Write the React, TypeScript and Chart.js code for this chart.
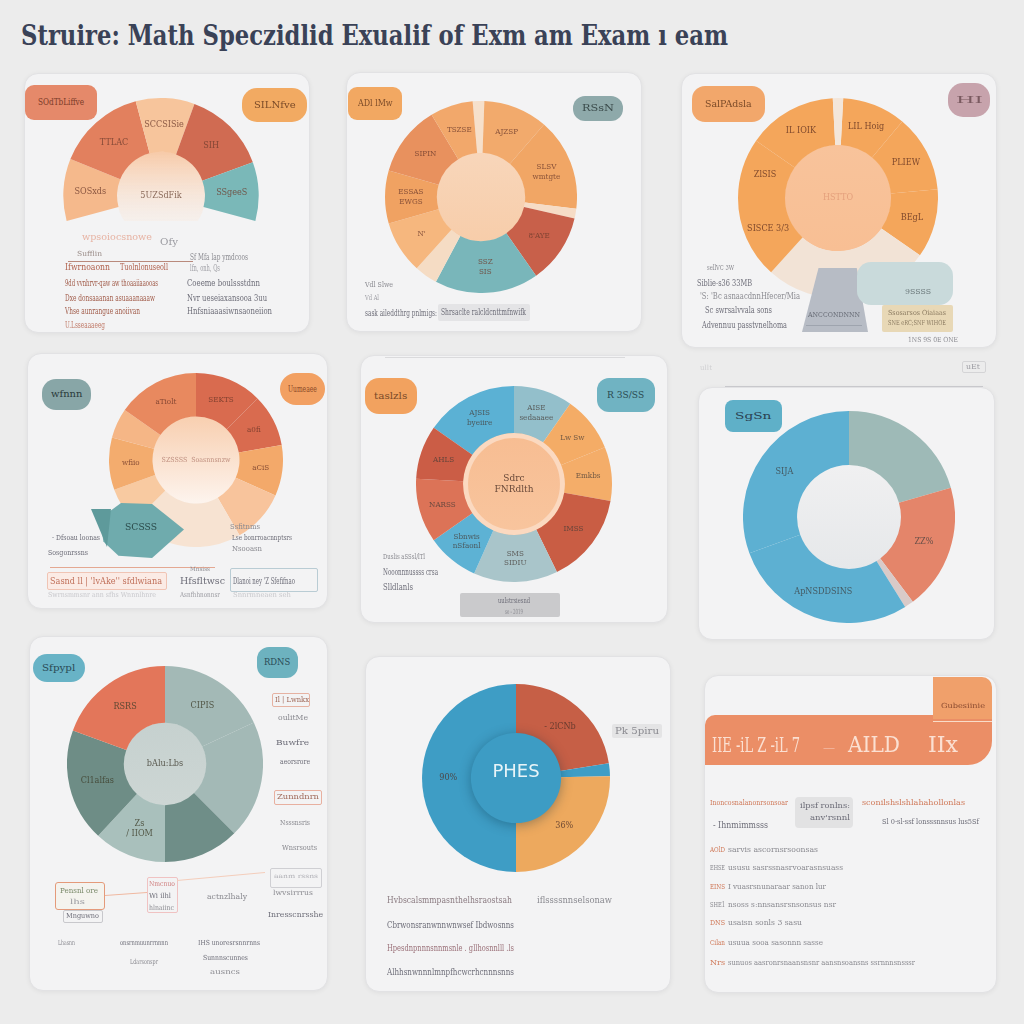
import React, { useEffect, useRef } from "react";
import { Chart, registerables } from "chart.js";

Chart.register(...registerables);

const SMALL_FONT = "'DejaVu Serif Condensed', 'Liberation Serif', serif";
const TITLE_FONT = "'DejaVu Serif Condensed', 'Liberation Serif', serif";

const TITLE = "Struire: Math Speczidlid Exualif of Exm am Exam ı eam";

// ---------- chart data ----------
const c1Labels = ["SOSxds", "TTLAC", "SCCSISie", "SIH", "SSgeeS"];
const c1Values = [37, 53, 35, 50, 35];
const c1Colors = ["#f5b98c", "#e2805e", "#f7c59c", "#d06b52", "#7ab8b8"];

const c2Labels = ["", "AJZSP", "SLSV\nwmtgte", "", "8'AYE", "SSZ\nSIS", "", "N'", "ESSAS\nEWGS", "SIPIN", "TSZSE"];
const c2Values = [7, 39, 56, 6, 42, 63, 14, 32, 32, 43, 26];
const c2Colors = ["#f6e0cb", "#f2aa6c", "#f1a665", "#f6dcc6", "#c8604a", "#79b6ba", "#f5dcc4", "#f6b77e", "#f0a262", "#e8915e", "#f2a86b"];

const c3Labels = ["LIL Hoig", "PLIEW", "BEgL", "", "SISCE 3/3", "ZlSIS", "IL IOIK", ""];
const c3Values = [37, 45, 40, 97, 48, 35, 52, 6];
const c3Colors = ["#f4a65b", "#f4a65b", "#f4a65b", "#f2e3d6", "#f4a65b", "#f4a65b", "#f4a65b", "#f3e6da"];

const c4Labels = ["SEKTS", "a0fi", "aCiS", "", "", "", "wfiio", "", "aTiolt"];
const c4Values = [45, 35, 34, 36, 75, 25, 35, 20, 55];
const c4Colors = ["#d96b4f", "#d96b4f", "#f3a96a", "#f8c49c", "#f7e3d2", "#f8caa1", "#f3ac6e", "#f5b686", "#e8895f"];

const c5Labels = ["AJSIS\nbyeiire", "AISE\nsedaaaee", "Lw Sw", "Emkbs", "IMSS", "SMS\nSIDIU", "Sbnwis\nnSfaonl", "NARSS", "AHLS"];
const c5Values = [55, 35, 33, 32, 54, 50, 31, 38, 32];
const c5Colors = ["#5bb1d4", "#93bfcb", "#f4ac66", "#f4ad69", "#c95d44", "#a9c5ca", "#5db2d4", "#dc7357", "#cb5d46"];

const c6Labels = ["", "ZZ%", "", "ApNSDDSINS", "SIJA"];
const c6Values = [74, 69, 5, 102, 110];
const c6Colors = ["#9ebab7", "#e4856a", "#d9cac8", "#5db0d2", "#5db0d2"];

const c7Labels = ["CIPIS", "", "", "Zs\n/ IIOM", "Cl1alfas", "RSRS"];
const c7Values = [65, 70, 45, 43, 67, 70];
const c7Colors = ["#a3b9b6", "#a3b9b6", "#6f8e88", "#a9c0bc", "#6e8d86", "#e3765a"];

const c8Labels = ["- 2lCNb", "", "36%", "90%"];
const c8Values = [81, 8, 91, 180];
const c8Colors = ["#c65f46", "#3e9dc5", "#eda95e", "#3e9dc5"];

// ---------- layout ----------
type Spec = {
  cx: number; cy: number; R: number;
  rotation: number; circumference: number; cutout: number;
  values: number[]; colors: string[]; labels: string[];
  labelColor: string; labelSize: number; labelPos?: number;
  holeTop?: string; holeBottom?: string; ringColor?: string; ringWidth?: number;
  holeText?: string; holeTextColor?: string; holeTextSize?: number;
  disk?: { r: number; color: string; text: string; textColor: string; size: number };
};

const CHARTS: Spec[] = [
  { cx: 161, cy: 196, R: 98, rotation: -105, circumference: 210, cutout: 0.45, values: c1Values, colors: c1Colors, labels: c1Labels,
    labelColor: "rgba(110,60,45,0.8)", labelSize: 9, holeTop: "#f7caa8", holeBottom: "rgba(250,242,236,0.2)", holeText: "5UZSdFik", holeTextColor: "#8a6a5a", holeTextSize: 9 },
  { cx: 481, cy: 197, R: 96, rotation: -5, circumference: 360, cutout: 0.46, values: c2Values, colors: c2Colors, labels: c2Labels,
    labelColor: "rgba(110,60,45,0.8)", labelSize: 8, holeTop: "#f8d6ba", holeBottom: "#f7cdaa" },
  { cx: 838, cy: 198, R: 100, rotation: 3, circumference: 360, cutout: 0.53, values: c3Values, colors: c3Colors, labels: c3Labels,
    labelColor: "rgba(105,55,35,0.85)", labelSize: 9, holeTop: "#f8c39b", holeBottom: "#f8bf94", holeText: "HSTTO", holeTextColor: "#e4a07c", holeTextSize: 9 },
  { cx: 196, cy: 460, R: 87, rotation: 0, circumference: 360, cutout: 0.5, values: c4Values, colors: c4Colors, labels: c4Labels,
    labelColor: "rgba(110,55,40,0.8)", labelSize: 8, holeTop: "#f8cfb0", holeBottom: "#fdf4ee", holeText: "SZSSSS  Soasnnsnzw", holeTextColor: "#c09080", holeTextSize: 7 },
  { cx: 514, cy: 484, R: 98, rotation: -55, circumference: 360, cutout: 0.52, values: c5Values, colors: c5Colors, labels: c5Labels,
    labelColor: "rgba(70,60,55,0.75)", labelSize: 8, holeTop: "#f7bd92", holeBottom: "#f8c59e", ringColor: "#fbd9c0", ringWidth: 5,
    holeText: "Sdrc\nFNRdlth", holeTextColor: "#6a4a3a", holeTextSize: 10 },
  { cx: 849, cy: 517, R: 106, rotation: 0, circumference: 360, cutout: 0.49, values: c6Values, colors: c6Colors, labels: c6Labels,
    labelColor: "rgba(60,60,60,0.75)", labelSize: 9, holeTop: "#f0f0f1", holeBottom: "#e6e8ea" },
  { cx: 165, cy: 764, R: 98, rotation: 0, circumference: 360, cutout: 0.42, values: c7Values, colors: c7Colors, labels: c7Labels,
    labelColor: "rgba(60,60,40,0.8)", labelSize: 9, holeTop: "#c6d1cf", holeBottom: "#cdd6d4", holeText: "bAlu:Lbs", holeTextColor: "#5a5a50", holeTextSize: 9 },
  { cx: 516, cy: 778, R: 94, rotation: 0, circumference: 360, cutout: 0, values: c8Values, colors: c8Colors, labels: c8Labels,
    labelColor: "rgba(80,50,40,0.8)", labelSize: 9, labelPos: 0.72,
    disk: { r: 0.48, color: "#3d9cc4", text: "PHES", textColor: "#e8f4f8", size: 18 } },
];

const PANELS: [number, number, number, number][] = [
  [24, 73, 286, 260], [346, 72, 296, 260], [681, 73, 316, 275],
  [27, 353, 301, 256], [360, 355, 308, 268], [698, 387, 297, 253],
  [29, 636, 299, 355], [365, 656, 306, 336], [704, 675, 293, 318],
];

// tags: x, y, w, h, bg, text, textColor, radius
const TAGS: [number, number, number, number, string, string, string, number][] = [
  [25, 85, 72, 35, "#e5896a", "SOdTbLiffve", "#7a3a28", 9],
  [242, 88, 65, 34, "#f2aa62", "SILNfve", "#7a4a28", 15],
  [348, 87, 54, 33, "#f2a862", "ADl lMw", "#7a4a28", 9],
  [573, 96, 50, 25, "#8ea9aa", "RSsN", "#3a4a4a", 12],
  [692, 86, 73, 36, "#f2a76b", "SalPAdsla", "#7a4a28", 13],
  [948, 83, 42, 34, "#c7a3ac", "HI", "#7a5a60", 15],
  [42, 379, 49, 31, "#88a6a7", "wfnnn", "#2a3a3a", 14],
  [280, 373, 45, 32, "#f2a062", "Uumeaee", "#8a4a28", 16],
  [365, 378, 52, 36, "#f2a25f", "taslzls", "#7a4a28", 14],
  [597, 378, 58, 34, "#70b3c2", "R 3S/SS", "#2a4a50", 12],
  [725, 400, 57, 32, "#5fb0c8", "SgSn", "#2a4050", 8],
  [33, 654, 52, 28, "#68b3c6", "Sfpypl", "#2a4a55", 14],
  [257, 647, 41, 31, "#6db2bf", "RDNS", "#2a4a55", 12],
];

// boxes: x, y, w, h, bg, border, radius, clip
const BOXES: [number, number, number, number, string, string, string, string][] = [
  [438, 304, 92, 17, "#e4e4e6", "none", "2px", ""],
  [802, 268, 66, 64, "#b7bcc5", "none", "0", "polygon(25% 0, 83% 0, 100% 100%, 0 100%)"],
  [857, 262, 96, 43, "#c9dadb", "none", "14px", ""],
  [882, 305, 71, 27, "#e8d8b6", "none", "2px", ""],
  [100, 503, 84, 55, "#6fabad", "none", "0", "polygon(0% 28%, 25% 0%, 62% 2%, 100% 48%, 62% 100%, 22% 96%, 4% 70%)"],
  [91, 509, 20, 38, "#5e9a9b", "none", "0", "polygon(0 0, 100% 0, 80% 100%)"],
  [47, 572, 120, 18, "#fbebe5", "1px solid #f0c4b4", "2px", ""],
  [230, 568, 88, 24, "transparent", "1px solid #b9ccd4", "2px", ""],
  [460, 593, 100, 24, "#cacacc", "none", "2px", ""],
  [962, 361, 24, 12, "transparent", "1px solid #d4d4d6", "2px", ""],
  [272, 693, 38, 14, "transparent", "1px solid #e6b2a2", "2px", ""],
  [274, 790, 48, 15, "transparent", "1px solid #e8b0a0", "2px", ""],
  [270, 868, 52, 20, "transparent", "1px solid #cfcfd3", "2px", ""],
  [55, 882, 50, 28, "#f4f3ee", "1px solid #e49a7a", "3px", ""],
  [63, 910, 40, 13, "transparent", "1px solid #c8c8cc", "2px", ""],
  [147, 877, 31, 36, "transparent", "1px solid #f0c2c2", "2px", ""],
  [612, 724, 50, 14, "#e4e4e5", "none", "2px", ""],
  [705, 715, 287, 50, "#eb8e66", "none", "10px 0 24px 0", ""],
  [933, 677, 59, 42, "#f0a06b", "none", "0 10px 0 0", ""],
  [795, 797, 58, 31, "#e2e2e3", "none", "4px", ""],
];

// text notes: x, y(center), width, text, color, size
const NOTES: [number, number, number, string, string, number][] = [
  // panel 1
  [82, 237, 70, "wpsoiocsnowe", "#e7b3a3", 9],
  [160, 242, 18, "Ofy", "#9a9aa0", 10],
  [77, 254, 25, "Sufflin", "#9a8c88", 7],
  [65, 267, 45, "Ifwrnoaonn", "#b0604c", 9],
  [120, 267, 48, "Tuolnlonuseoll", "#b0604c", 9],
  [190, 257, 58, "Sf Mfa lap ymdcoos", "#8a8a90", 9],
  [190, 268, 30, "lfn, onh, Qs", "#a0a0a6", 9],
  [65, 283, 93, "9dd vvnhrvr-qaw aw thoaaiiaaooas", "#a05a48", 9],
  [187, 283, 73, "Coeeme boulssstdnn", "#6d6d78", 9],
  [65, 298, 90, "Dxe donsaaanan asuaaanaaaw", "#a05a48", 9],
  [187, 298, 80, "Nvr ueseiaxansooa 3uu", "#6d6d78", 9],
  [65, 311, 75, "Vhse aunrangue anoiivan", "#a05a48", 9],
  [187, 311, 85, "Hnfsniaaasiwnsaoneiion", "#6d6d78", 9],
  [65, 325, 40, "U.Lsseaaaeeg", "#c07a68", 9],
  // panel 2
  [365, 285, 28, "Vdl Slwe", "#8a8a90", 8],
  [365, 298, 14, "Vd Al", "#a0a0a6", 8],
  [365, 313, 72, "sask aileddthrg pnlmigs:", "#6d6d78", 9],
  [441, 312, 85, "Shrsaclte ralcldcnttmfnwifk", "#6d6d78", 9],
  // panel 3
  [707, 268, 27, "sellVC 3W", "#8a8a90", 8],
  [697, 283, 55, "Siblie-s36 33MB", "#6d6d78", 9],
  [700, 296, 100, "'S: 'Bc asnaacdnnHfecer/Mia", "#8a8a90", 9],
  [705, 310, 67, "Sc swrsalvvala sons", "#6d6d78", 9],
  [702, 325, 85, "Advennuu passtvnelhoma", "#6d6d78", 9],
  [808, 315, 52, "ANCCONDNNN", "#6a6e78", 8],
  [905, 292, 26, "9SSSS", "#6d7a7c", 8],
  [888, 313, 58, "Ssosarsos Oiaiaas", "#8a7a60", 7],
  [888, 323, 58, "SNE eRC;SNF WIHOE", "#8a7a60", 7],
  [908, 340, 50, "1NS 9S 0E ONE", "#8a8a90", 7],
  // panel 4
  [52, 538, 48, "- Dfsoau loonas", "#6d6d78", 8],
  [48, 553, 40, "Sosgonrssns", "#6d6d78", 8],
  [125, 527, 32, "SCSSS", "#2a4a4a", 10],
  [230, 527, 30, "Ssfitnms", "#8a8a90", 8],
  [232, 538, 60, "Lse bonrroacnnptsrs", "#6d6d78", 8],
  [232, 549, 30, "Nsooasn", "#8a8a90", 8],
  [50, 581, 112, "Sasnd ll | 'lvAke'' sfdlwiana", "#c0705a", 9],
  [190, 569, 20, "Mnsiss", "#8a8a90", 6],
  [180, 581, 45, "Hfsfltwsc", "#6d6d78", 9],
  [233, 581, 62, "Dlanoi ney 'Z Sfefifnao", "#6d6d78", 9],
  [48, 595, 110, "Swrnsmmsnr ann sfhs  Wnnnlhnre", "#c8c8cc", 7],
  [180, 595, 40, "Asnfhhnonnsr", "#9a9aa0", 7],
  [233, 595, 60, "Snnrmneaen  seh", "#c8c8cc", 7],
  // panel 5
  [383, 557, 42, "Duslis aSSsl/lTl", "#8a8a90", 8],
  [383, 572, 55, "Nooonnnussss crsa", "#6d6d78", 9],
  [383, 587, 30, "Slldlanls", "#6d6d78", 9],
  [498, 601, 32, "uulstrsiesnd", "#6d6d78", 8],
  [505, 612, 18, "se - 2019", "#8a8a90", 7],
  // panel 6
  [966, 367, 14, "uEt", "#9a9aa0", 7],
  [700, 368, 12, "ullt", "#d0d0d2", 7],
  // panel 7
  [275, 700, 34, "Il | Lwnkx", "#a06a5a", 8],
  [278, 718, 30, "oulitMe", "#8a8a90", 8],
  [276, 743, 33, "Buwfre", "#6d6d78", 8],
  [280, 762, 30, "aeorsrore", "#6d6d78", 8],
  [277, 797, 42, "Zunndnrn", "#a06a5a", 8],
  [280, 823, 30, "Nsssnsris", "#8a8a90", 8],
  [282, 848, 35, "Wnsrsouts", "#8a8a90", 8],
  [274, 876, 44, "aanm rssns", "#b0b0b6", 6],
  [273, 893, 40, "lwvsirrrus", "#8a8a90", 7],
  [268, 915, 55, "Inresscnrsshe", "#6d6d78", 8],
  [60, 891, 38, "Pensnl ore", "#7a8a6a", 8],
  [70, 902, 15, "lhs", "#9a9aa0", 7],
  [66, 916, 33, "Mnguwno", "#6d6d78", 7],
  [149, 884, 26, "Nmcnuo", "#d08080", 7],
  [149, 896, 22, "Wi ilhl", "#6d6d78", 7],
  [149, 908, 25, "hlnaiinc", "#8a8a90", 7],
  [207, 897, 40, "actnzlhaly", "#8a8a90", 8],
  [58, 943, 17, "Lhasnn", "#8a8a90", 7],
  [120, 943, 48, "onsrnmuunrrnnnn", "#6d6d78", 7],
  [198, 943, 62, "IHS unoresrsnnrnns", "#6d6d78", 7],
  [130, 962, 28, "Ldarsonspr", "#8a8a90", 7],
  [203, 958, 45, "Sunnnscunnes", "#6d6d78", 7],
  [210, 972, 30, "ausncs", "#8a8a90", 7],
  // panel 8
  [615, 731, 44, "Pk 5piru", "#8a8a90", 9],
  [387, 900, 125, "Hvbscalsmmpasnthelhsraostsah", "#8a7a80", 9],
  [537, 900, 75, "iflssssnnselsonaw", "#8a8a90", 9],
  [387, 925, 127, "Cbrwonsranwnnwnwsef Ibdwosnns", "#6d6d78", 9],
  [387, 948, 127, "Hpesdnpnnnsnnmsnle . gllhosnnlll .ls", "#9a7078", 9],
  [387, 972, 127, "Alhhsnwnnnlmnpfhcwcrhcnnnsnns", "#6d6d78", 9],
  // panel 9
  [941, 706, 44, "Gubesiinie", "#8a4a30", 7],
  [712, 745, 88, "IIE -iL Z -iL 7", "#fbe0d2", 20],
  [823, 748, 12, "—", "#f8d0c0", 8],
  [848, 745, 52, "AILD", "#fbe0d2", 22],
  [928, 745, 30, "IIx", "#fbe0d2", 22],
  [710, 803, 78, "Inoncosnalanonrsonsoar", "#d07a5a", 8],
  [800, 806, 50, "ilpsf ronlns:", "#6d6d78", 8],
  [810, 818, 40, "anv'rsnnl", "#6d6d78", 8],
  [862, 803, 103, "sconilshslshlahahollonlas", "#d07a5a", 8],
  [713, 825, 55, "- Ihnmimmsss", "#6d6d78", 9],
  [882, 822, 97, "Sl 0-sl-ssf lonsssnnsus lus5Sf", "#6d6d78", 8],
  [710, 850, 15, "AOlD", "#d07a5a", 8], [728, 850, 90, "sarvis ascornsrsoonsas", "#8a8a90", 8],
  [710, 868, 15, "EHSE", "#8a8a90", 8], [728, 868, 115, "ususu sasrssnasrvoarasnsuass", "#8a8a90", 8],
  [710, 887, 15, "EINS", "#d07a5a", 8], [728, 887, 98, "I vuasrsnunaraar sanon lur", "#8a8a90", 8],
  [710, 905, 15, "SHE1", "#8a8a90", 8], [728, 905, 108, "nsoss s:nnsansrsnsonsus nsr", "#8a8a90", 8],
  [710, 923, 15, "DNS", "#d07a5a", 8], [728, 923, 74, "usaisn sonls 3 sasu", "#8a8a90", 8],
  [710, 943, 15, "Cilan", "#d07a5a", 8], [728, 943, 95, "usuua sooa sasonnn sasse", "#8a8a90", 8],
  [710, 963, 15, "Nrs", "#d07a5a", 8], [728, 963, 187, "sunuos aasronrsnaansnsnr aansnsoansns ssrnnnsnsssr", "#8a8a90", 8],
];

// lines: x1, y1, x2, y2, color, width
const LINES: [number, number, number, number, string, number][] = [
  [68, 261, 193, 261, "#b98a7c", 1],
  [50, 567, 215, 567, "#e4a892", 1],
  [385, 357, 625, 357, "#dadadc", 1],
  [725, 386, 983, 386, "#c8c8cc", 1],
  [105, 895, 147, 892, "#f0b8a0", 1],
  [177, 880, 265, 872, "#f4cdbb", 1],
  [933, 721, 992, 721, "#f9dcc8", 1],
  [806, 325, 862, 325, "#9ea4ae", 1],
];

// ---------- helpers ----------
const measureCanvas = document.createElement("canvas");
const measureCtx = measureCanvas.getContext("2d") as CanvasRenderingContext2D;
function textWidth(text: string, font: string) {
  measureCtx.font = font;
  return measureCtx.measureText(text).width;
}

function arcBox(s: Spec) {
  const { cx, cy, R, rotation, circumference, cutout } = s;
  if (circumference >= 360) return { left: cx - R, top: cy - R, w: 2 * R, h: 2 * R };
  const TAU = Math.PI * 2;
  const st = ((rotation - 90) * Math.PI) / 180;
  const c = (circumference * Math.PI) / 180;
  const en = st + c;
  const inArc = (a: number) => {
    let d = (a - st) % TAU;
    if (d < 0) d += TAU;
    return d <= c + 1e-9;
  };
  const sx = Math.cos(st), sy = Math.sin(st), ex = Math.cos(en), ey = Math.sin(en);
  const mx = (a: number, p: number, q: number) => (inArc(a) ? 1 : Math.max(p, p * cutout, q, q * cutout));
  const mn = (a: number, p: number, q: number) => (inArc(a) ? -1 : Math.min(p, p * cutout, q, q * cutout));
  const maxX = mx(0, sx, ex), maxY = mx(Math.PI / 2, sy, ey);
  const minX = mn(Math.PI, sx, ex), minY = mn(Math.PI * 1.5, sy, ey);
  const rx = (maxX - minX) / 2, ry = (maxY - minY) / 2;
  const ox = -(maxX + minX) / 2, oy = -(maxY + minY) / 2;
  const w = 2 * R * rx, h = 2 * R * ry;
  return { left: cx - w / 2 - ox * R, top: cy - h / 2 - oy * R, w, h };
}

function drawMulti(ctx: CanvasRenderingContext2D, text: string, x: number, y: number, size: number) {
  const lines = text.split("\n");
  const lh = size * 1.15;
  const y0 = y - ((lines.length - 1) * lh) / 2;
  lines.forEach((l, i) => ctx.fillText(l, x, y0 + i * lh));
}

function makePlugin(s: Spec) {
  return {
    id: "deco",
    beforeDatasetsDraw(chart: any) {
      const arc = chart.getDatasetMeta(0).data[0];
      if (!arc || !s.holeTop) return;
      const { x, y, innerRadius } = arc;
      if (innerRadius <= 0) return;
      const ctx = chart.ctx;
      ctx.save();
      const g = ctx.createLinearGradient(0, y - innerRadius, 0, y + innerRadius);
      g.addColorStop(0, s.holeTop);
      g.addColorStop(1, s.holeBottom || s.holeTop);
      ctx.fillStyle = g;
      ctx.beginPath();
      ctx.arc(x, y, innerRadius + 0.5, 0, Math.PI * 2);
      ctx.fill();
      if (s.ringColor) {
        ctx.strokeStyle = s.ringColor;
        ctx.lineWidth = s.ringWidth || 3;
        ctx.beginPath();
        ctx.arc(x, y, innerRadius - (s.ringWidth || 3) / 2, 0, Math.PI * 2);
        ctx.stroke();
      }
      ctx.restore();
    },
    afterDatasetsDraw(chart: any) {
      const meta = chart.getDatasetMeta(0);
      const ctx = chart.ctx;
      ctx.save();
      ctx.textAlign = "center";
      ctx.textBaseline = "middle";
      ctx.fillStyle = s.labelColor;
      ctx.font = `${s.labelSize}px ${SMALL_FONT}`;
      const pos = s.labelPos ?? 0.5;
      meta.data.forEach((el: any, i: number) => {
        const lab = s.labels[i];
        if (!lab) return;
        const a = (el.startAngle + el.endAngle) / 2;
        const r = el.innerRadius + (el.outerRadius - el.innerRadius) * pos;
        drawMulti(ctx, lab, el.x + Math.cos(a) * r, el.y + Math.sin(a) * r, s.labelSize);
      });
      const arc = meta.data[0];
      if (s.holeText && arc) {
        ctx.fillStyle = s.holeTextColor || "#555";
        ctx.font = `${s.holeTextSize || 9}px ${SMALL_FONT}`;
        drawMulti(ctx, s.holeText, arc.x, arc.y, s.holeTextSize || 9);
      }
      if (s.disk && arc) {
        const d = s.disk;
        ctx.shadowColor = "rgba(0,40,60,0.35)";
        ctx.shadowBlur = 12;
        ctx.shadowOffsetY = 2;
        ctx.fillStyle = d.color;
        ctx.beginPath();
        ctx.arc(arc.x, arc.y, arc.outerRadius * d.r, 0, Math.PI * 2);
        ctx.fill();
        ctx.shadowColor = "transparent";
        ctx.fillStyle = d.textColor;
        ctx.font = `${d.size}px 'DejaVu Sans', sans-serif`;
        ctx.fillText(d.text, arc.x, arc.y - 6);
      }
      ctx.restore();
    },
  };
}

function Donut({ spec }: { spec: Spec }) {
  const ref = useRef<HTMLCanvasElement>(null);
  const box = arcBox(spec);
  const w = Math.round(box.w), h = Math.round(box.h);
  useEffect(() => {
    const chart = new Chart(ref.current as HTMLCanvasElement, {
      type: "doughnut",
      data: {
        labels: spec.labels,
        datasets: [{ data: spec.values, backgroundColor: spec.colors, borderWidth: 0 }],
      },
      options: {
        responsive: false,
        animation: false,
        rotation: spec.rotation,
        circumference: spec.circumference,
        cutout: spec.cutout * 100 + "%",
        layout: { padding: 0 },
        events: [],
        plugins: { legend: { display: false }, tooltip: { enabled: false } },
      } as any,
      plugins: [makePlugin(spec) as any],
    });
    return () => chart.destroy();
  }, []);
  return (
    <canvas
      ref={ref}
      width={w}
      height={h}
      style={{ position: "absolute", left: Math.round(box.left), top: Math.round(box.top), width: w, height: h }}
    />
  );
}

function FitText({ x, y, w, text, color, size, bold, family }: {
  x: number; y: number; w: number; text: string; color: string; size: number; bold?: boolean; family?: string;
}) {
  const fam = family || SMALL_FONT;
  const font = `${bold ? "bold " : ""}${size}px ${fam}`;
  const mw = textWidth(text, font) || 1;
  const k = w / mw;
  return (
    <div
      style={{
        position: "absolute", left: x, top: y - size * 0.6, fontFamily: fam, fontSize: size,
        fontWeight: bold ? 700 : 400, color, whiteSpace: "nowrap", lineHeight: "1.2",
        transform: `scaleX(${k})`, transformOrigin: "0 0",
      }}
    >
      {text}
    </div>
  );
}

export default function App() {
  return (
    <div style={{ position: "absolute", left: 0, top: 0, width: 1024, height: 1024, background: "#ececec", overflow: "hidden" }}>
      <FitText x={21} y={36} w={707} text={TITLE} color="#3a4257" size={28} bold family={TITLE_FONT} />
      {PANELS.map(([x, y, w, h], i) => (
        <div key={"p" + i} style={{
          position: "absolute", left: x, top: y, width: w, height: h, background: "#f3f3f4",
          border: "1px solid #e2e2e4", borderRadius: 14, boxShadow: "0 1px 5px rgba(0,0,0,0.06)", boxSizing: "border-box",
        }} />
      ))}
      {CHARTS.map((s, i) => <Donut key={"c" + i} spec={s} />)}
      {BOXES.map(([x, y, w, h, bg, border, radius, clip], i) => (
        <div key={"b" + i} style={{
          position: "absolute", left: x, top: y, width: w, height: h, background: bg, border,
          borderRadius: radius, clipPath: clip || undefined, boxSizing: "border-box",
        }} />
      ))}
      {TAGS.map(([x, y, w, h, bg, text, tc, r], i) => (
        <React.Fragment key={"t" + i}>
          <div style={{ position: "absolute", left: x, top: y, width: w, height: h, background: bg, borderRadius: r }} />
          <FitText x={x + w * 0.18} y={y + h / 2} w={w * 0.64} text={text} color={tc} size={9} />
        </React.Fragment>
      ))}
      <svg width={1024} height={1024} style={{ position: "absolute", left: 0, top: 0 }}>
        {LINES.map(([x1, y1, x2, y2, c, sw], i) => (
          <line key={"l" + i} x1={x1} y1={y1 + 0.5} x2={x2} y2={y2 + 0.5} stroke={c} strokeWidth={sw} />
        ))}
      </svg>
      {NOTES.map(([x, y, w, text, color, size], i) => (
        <FitText key={"n" + i} x={x} y={y} w={w} text={text} color={color} size={size} />
      ))}
    </div>
  );
}
